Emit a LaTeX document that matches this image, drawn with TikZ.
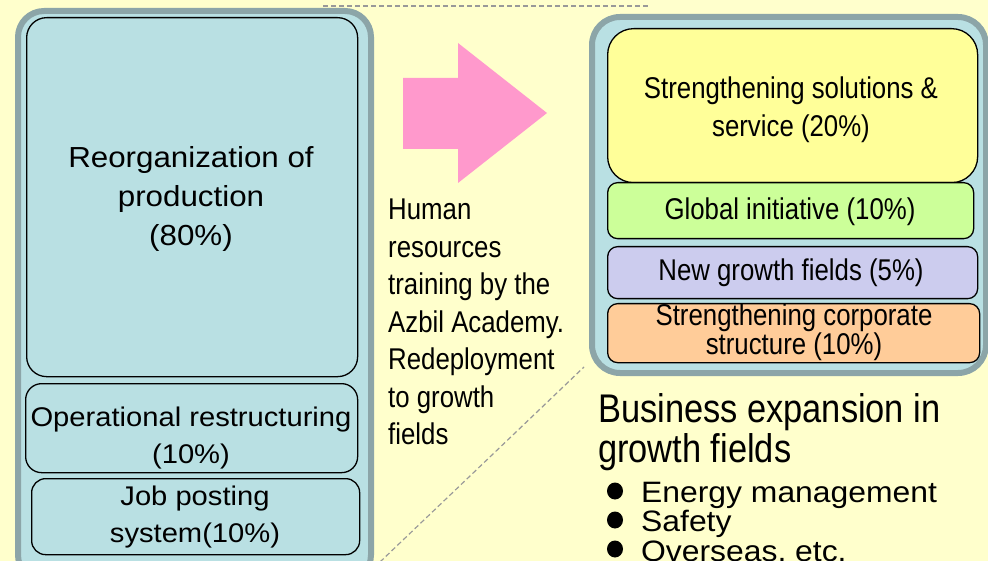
\documentclass[tikz,border=0pt]{standalone}
\usepackage{fontspec}
\setmainfont[FakeStretch=1.08]{Liberation Sans}
\newfontfamily\narrowfont[FakeStretch=0.86]{Liberation Sans}
\definecolor{paper}{HTML}{FFFFCC}
\definecolor{paleblue}{HTML}{B9E0E3}
\definecolor{framegray}{HTML}{8CA5A8}
\definecolor{arrowpink}{HTML}{FF99CC}
\definecolor{dashgray}{HTML}{999999}
\definecolor{solyellow}{HTML}{FFFF99}
\definecolor{globgreen}{HTML}{CCFF99}
\definecolor{newlilac}{HTML}{CCCCEE}
\definecolor{corporange}{HTML}{FFCC99}
\tikzset{
	panel/.style={draw=framegray, line width=6pt, fill=paleblue, rounded corners=26pt, anchor=north west, inner sep=0pt},
	item/.style={draw=black, line width=1.3pt, anchor=north west, inner sep=0pt},
	zoomline/.style={draw=dashgray, line width=1.2pt, dash pattern=on 5pt off 3pt},
	lefttext/.style={align=center, font=\fontsize{27}{37}\selectfont},
	righttext/.style={align=center, font=\narrowfont\fontsize{30}{38}\selectfont},
}
\begin{document}
\begin{tikzpicture}[x=1pt, y=-1pt]
		\fill[paper] (0,0) rectangle (988,561);
		\useasboundingbox (0,0) rectangle (988,561);
		\clip (0,0) rectangle (988,561);
		% dashed zoom lines
		\coordinate (zoomtopA) at (323,6);
		\coordinate (zoomtopB) at (648,6);
		\coordinate (zoombotA) at (380,562);
		\coordinate (zoombotB) at (584,367);
		\draw[zoomline] (zoomtopA) -- (zoomtopB);
		\draw[zoomline] (zoombotA) -- (zoombotB);
		% left panel
		\node[panel, minimum width=353pt, minimum height=570pt] (oldpanel) at (15,8) {};
		\node[item, fill=paleblue, rounded corners=20pt, minimum width=331pt, minimum height=359pt] (reorg) at (26,17) {};
		\node[item, fill=paleblue, rounded corners=16pt, minimum width=332pt, minimum height=89pt] (oper) at (25,383) {};
		\node[item, fill=paleblue, rounded corners=14pt, minimum width=328pt, minimum height=76pt] (jobpost) at (31,478) {};
		\node[lefttext, font=\fontsize{29}{39}\selectfont] (reorgtxt) at (191,199) {Reorganization of\\production\\(80\%)};
		\node[lefttext] (opertxt) at (191,438) {Operational restructuring\\(10\%)};
		\node[lefttext] (jobtxt) at (195,517) {Job posting\\system(10\%)};
		% arrow
		\fill[arrowpink] (403,78) -- (458,78) -- (458,43) -- (547,113) -- (458,183) -- (458,149) -- (403,149) -- cycle;
		\node[anchor=west, align=left, inner sep=0pt, font=\narrowfont\fontsize{30}{37.5}\selectfont] (humantxt) at (388,322)
			{Human\\resources\\training by the\\Azbil Academy.\\Redeployment\\to growth\\fields};
		% right panel
		\node[panel, rounded corners=28pt, minimum width=394pt, minimum height=356pt] (newpanel) at (589,14) {};
		\node[item, fill=solyellow, rounded corners=26pt, minimum width=370pt, minimum height=154pt] (solution) at (607,28) {};
		\node[item, fill=globgreen, rounded corners=10pt, minimum width=366pt, minimum height=56pt] (global) at (607,182) {};
		\node[item, fill=newlilac, rounded corners=10pt, minimum width=370pt, minimum height=52pt] (newfields) at (607,246) {};
		\node[item, fill=corporange, rounded corners=10pt, minimum width=372pt, minimum height=59pt] (corporate) at (607,303) {};
		\node[righttext] (solutiontxt) at (791,110) {Strengthening solutions \&\\service (20\%)};
		\node[righttext] (globaltxt) at (790,212) {Global initiative (10\%)};
		\node[righttext] (newfieldstxt) at (791,273) {New growth fields (5\%)};
		\node[righttext, font=\narrowfont\fontsize{30}{29}\selectfont] (corporatetxt) at (794,332) {Strengthening corporate\\structure (10\%)};
		% growth fields
		\node[anchor=west, align=left, inner sep=0pt, font=\narrowfont\fontsize{40}{40}\selectfont] (growthtitle) at (598,432)
			{Business expansion in\\growth fields};
		\foreach \field [count=\i] in {Energy management, Safety, {Overseas, etc.}} {
			\fill (615,462+29*\i) ellipse (8pt and 8.5pt);
			\node[anchor=west, inner sep=0pt, font=\fontsize{29.5}{29}\selectfont] (field\i) at (641,466+29*\i) {\field};
		}
	\end{tikzpicture}
\end{document}
